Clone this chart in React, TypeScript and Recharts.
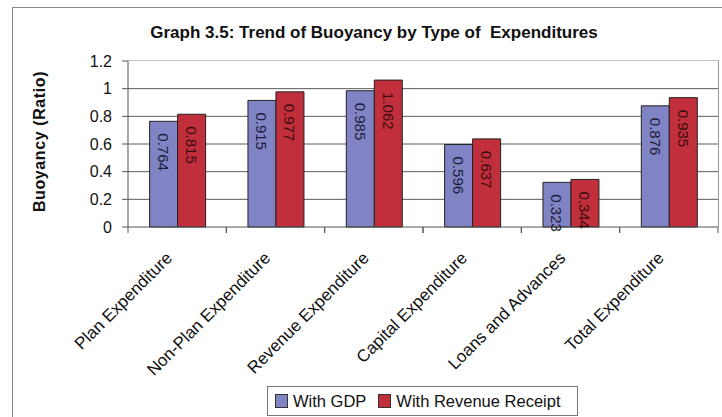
import React from "react"
import { BarChart, Bar, XAxis, YAxis, CartesianGrid } from "recharts"

const categories = [
  "Plan Expenditure",
  "Non-Plan Expenditure",
  "Revenue Expenditure",
  "Capital Expenditure",
  "Loans and Advances",
  "Total Expenditure",
]
const withGdp = [0.764, 0.915, 0.985, 0.596, 0.323, 0.876]
const withRevenue = [0.815, 0.977, 1.062, 0.637, 0.344, 0.935]
const yTicks = [0, 0.2, 0.4, 0.6, 0.8, 1, 1.2]
const gridValues = [0.2, 0.4, 0.6, 0.8, 1]

const seriesNames = ["With GDP", "With Revenue Receipt"]
const seriesColors = ["#8084c4", "#c22f3c"]
const labelColors = ["#1c1c3a", "#3a0c0c"]

const data = categories.map((name, i) => ({ name, gdp: withGdp[i], rev: withRevenue[i] }))

const W = 722
const H = 417
const PLOT_L = 128
const PLOT_R = 718
const PLOT_T = 61
const PLOT_B = 227
const BAND = (PLOT_R - PLOT_L) / categories.length
const FONT = "Arial, 'Liberation Sans', sans-serif"

function makeLabel(color: string) {
  return (props: any) => {
    const { x, y, width, value } = props
    const cx = x + width / 2
    const ty = y + 12
    return (
      <text
        x={cx}
        y={ty}
        transform={`rotate(90, ${cx}, ${ty})`}
        textAnchor="start"
        dominantBaseline="central"
        fontSize={15}
        fontFamily={FONT}
        fill={color}
      >
        {value}
      </text>
    )
  }
}

function CategoryTick(props: any) {
  const { x, payload } = props
  const ax = x - 4
  const ay = PLOT_B + 32
  return (
    <g>
      <line x1={x - BAND / 2} y1={PLOT_B} x2={x - BAND / 2} y2={PLOT_B + 6} stroke="#555" />
      <line x1={x + BAND / 2} y1={PLOT_B} x2={x + BAND / 2} y2={PLOT_B + 6} stroke="#555" />
      <text
        x={ax}
        y={ay}
        transform={`rotate(-45, ${ax}, ${ay})`}
        textAnchor="end"
        fontSize={17}
        fontFamily={FONT}
        fill="#111"
      >
        {payload.value}
      </text>
    </g>
  )
}

export default function App() {
  return (
    <div style={{ position: "absolute", left: 0, top: 0, width: W, height: H, background: "#fff", overflow: "hidden" }}>
      {/* outer chart frame */}
      <div
        style={{
          position: "absolute",
          left: 12,
          top: 7,
          width: W,
          height: H,
          borderLeft: "1px solid #8a8a8a",
          borderTop: "1px solid #8a8a8a",
        }}
      />
      {/* plot area border */}
      <div
        style={{
          position: "absolute",
          left: PLOT_L,
          top: PLOT_T - 1,
          width: PLOT_R - PLOT_L + 1,
          height: PLOT_B - PLOT_T + 1,
          borderTop: "1px solid #c9c2b0",
          borderRight: "1px solid #9a9a9a",
          boxSizing: "border-box",
        }}
      />
      <div style={{ position: "absolute", left: 0, top: 0 }}>
        <BarChart
          width={W}
          height={H}
          data={data}
          margin={{ top: PLOT_T, right: W - PLOT_R, bottom: H - PLOT_B - 150, left: 0 }}
          barCategoryGap="22%"
          barGap={0}
        >
          <CartesianGrid vertical={false} horizontalValues={gridValues} stroke="#5a5a5a" strokeWidth={1} />
          <XAxis
            dataKey="name"
            interval={0}
            height={150}
            axisLine={{ stroke: "#555" }}
            tickLine={false}
            tick={<CategoryTick />}
          />
          <YAxis
            width={PLOT_L}
            domain={[0, 1.2]}
            ticks={yTicks}
            interval={0}
            axisLine={{ stroke: "#555" }}
            tickLine={{ stroke: "#555" }}
            tickSize={6}
            tickMargin={10}
            tick={{ fontSize: 16, fontFamily: FONT, fill: "#111" }}
            tickFormatter={(v: number) => String(v)}
          />
          <Bar dataKey="gdp" name={seriesNames[0]} fill={seriesColors[0]} stroke="#222" strokeWidth={1} isAnimationActive={false} label={makeLabel(labelColors[0])} />
          <Bar dataKey="rev" name={seriesNames[1]} fill={seriesColors[1]} stroke="#222" strokeWidth={1} isAnimationActive={false} label={makeLabel(labelColors[1])} />
        </BarChart>
      </div>
      <svg width={W} height={H} style={{ position: "absolute", left: 0, top: 0, pointerEvents: "none" }}>
        <text x={374} y={38} textAnchor="middle" fontSize={17} fontWeight="bold" fontFamily={FONT} fill="#111">
          Graph 3.5: Trend of Buoyancy by Type of{"\u00a0\u00a0"}Expenditures
        </text>
        <text
          x={45}
          y={141.5}
          transform="rotate(-90, 45, 141.5)"
          textAnchor="middle"
          fontSize={16}
          fontWeight="bold"
          letterSpacing={0.6}
          fontFamily={FONT}
          fill="#111"
        >
          Buoyancy (Ratio)
        </text>
      </svg>
      {/* legend */}
      <div
        style={{
          position: "absolute",
          left: 267,
          top: 386,
          width: 311,
          height: 30,
          border: "1px solid #777",
          background: "#fff",
          boxSizing: "border-box",
          display: "flex",
          alignItems: "center",
          justifyContent: "flex-start",
          paddingLeft: 7,
          gap: 12,
          fontFamily: FONT,
          fontSize: 16.5,
          color: "#111",
        }}
      >
        {seriesNames.map((n, i) => (
          <div key={n} style={{ display: "flex", alignItems: "center", gap: 5 }}>
            <span style={{ display: "inline-block", width: 11, height: 12, background: seriesColors[i], border: "1px solid #333" }} />
            <span>{n}</span>
          </div>
        ))}
      </div>
    </div>
  )
}
